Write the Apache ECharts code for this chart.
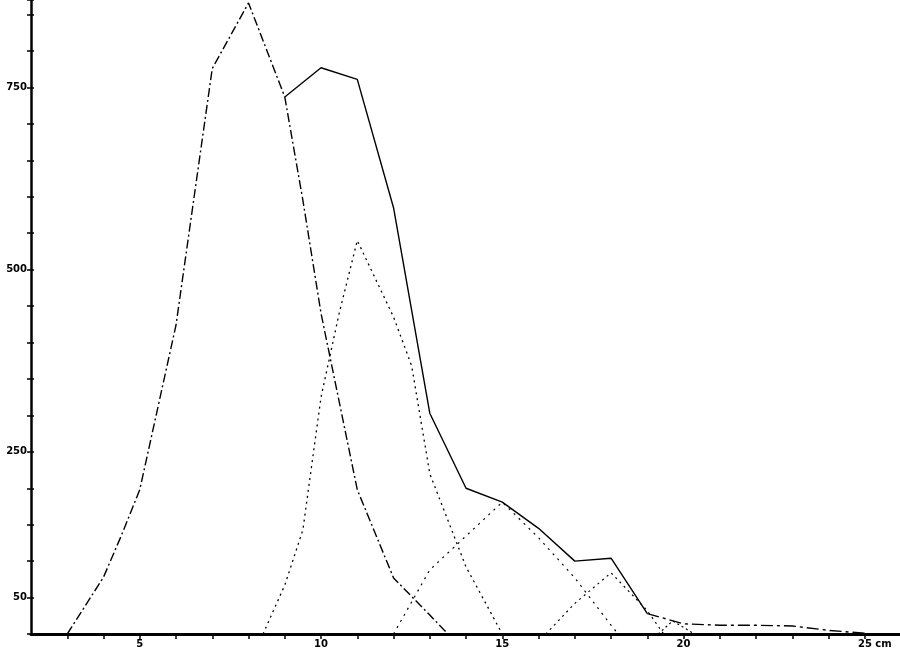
<!DOCTYPE html>
<html>
<head>
<meta charset="utf-8">
<script src="https://cdn.jsdelivr.net/npm/echarts@6/dist/echarts.min.js"></script>
<style>html,body{margin:0;padding:0;background:#fff}#c{width:900px;height:651px}</style>
</head>
<body>
<div id="c"></div>
<script>
// Component 1 (first peak, dash-dot)
var comp1X = [3, 4, 4.5, 5, 6, 7, 8, 9, 9.5, 10, 11, 12, 13, 13.5];
var comp1Y = [0, 78, 136, 198, 424, 776, 866, 737, 595, 440, 198, 77, 26, 0];
// Component 2 (peak at 11, dotted)
var comp2X = [8.4, 9, 9.5, 10, 10.5, 11, 12, 12.5, 13, 14, 15];
var comp2Y = [0, 67, 143, 325, 440, 540, 435, 368, 220, 92, 0];
// Component 3 (peak at 15, dotted)
var comp3X = [12, 13, 15, 16, 17, 18, 18.2];
var comp3Y = [0, 88, 181, 132, 77, 12, 0];
// Component 4 (peak at 18, dotted)
var comp4X = [16.2, 17, 18, 19, 19.45];
var comp4Y = [0, 42, 84, 32, 0];
// Component 5 (small tail, dotted)
var comp5X = [19.3, 19.7, 20.3];
var comp5Y = [0, 18, 0];
// Total (envelope)
var totalX = [8, 9, 10, 11, 12, 13, 14, 15, 16, 17, 18, 19, 20, 21, 22, 23, 24, 25];
var totalY = [866, 737, 777, 761, 585, 303, 200, 181, 145, 100, 104, 28, 14, 12, 12, 11, 5, 1];
// Tick labels
var yLabelValues = [50, 250, 500, 750];
var xLabelValues = [5, 10, 15, 20, 25];

function pairs(xs, ys) { return xs.map(function (x, i) { return [x, ys[i]]; }); }
var totalPairs = pairs(totalX, totalY);
var totalSolid = totalPairs.filter(function (p) { return p[0] >= 9 && p[0] <= 19; });
var totalTail = totalPairs.filter(function (p) { return p[0] >= 19; });

function lineSeries(data, type, width) {
  return {
    type: 'line', data: data, showSymbol: false, silent: true, animation: false,
    lineStyle: { color: '#000', width: width || 1.3, type: type }
  };
}

var chart = echarts.init(document.getElementById('c'), null, { renderer: 'canvas' });
chart.setOption({
  backgroundColor: '#fff',
  animation: false,
  grid: { left: 31, right: 0, top: 0, bottom: 17 },
  xAxis: {
    type: 'value', min: 2, max: 25.97, interval: 1,
    axisLine: { show: true, onZero: false, lineStyle: { color: '#000', width: 3 } },
    axisTick: { show: true, length: 5, lineStyle: { color: '#000', width: 1.5 } },
    splitLine: { show: false },
    axisLabel: {
      margin: 5, color: '#000', fontFamily: 'DejaVu Sans', fontWeight: 'bold', fontSize: 10,
      showMinLabel: false, showMaxLabel: false,
      formatter: function (v) {
        if (xLabelValues.indexOf(v) < 0) return '';
        if (v === 25) return '{sp|}25 cm';
        return String(v);
      },
      rich: { sp: { width: 20 } }
    }
  },
  yAxis: [{
    type: 'value', min: 0, max: 870, interval: 50,
    axisLine: { show: true, lineStyle: { color: '#000', width: 2.5 } },
    axisTick: { show: true, length: 4, lineStyle: { color: '#000', width: 1.5 } },
    splitLine: { show: false },
    axisLabel: {
      margin: 4, color: '#000', fontFamily: 'DejaVu Sans', fontWeight: 'bold', fontSize: 10,
      formatter: function (v) { return yLabelValues.indexOf(v) >= 0 ? String(v) : ''; }
    }
  }, {
    type: 'value', min: 0, max: 870, interval: 50, position: 'left',
    axisLine: { show: false },
    axisTick: { show: true, inside: true, length: 3, lineStyle: { color: '#000', width: 1.5 } },
    splitLine: { show: false },
    axisLabel: { show: false }
  }],
  series: [
    lineSeries(pairs(comp1X, comp1Y), [9, 3, 2, 3], 1.4),
    lineSeries(pairs(comp2X, comp2Y), [2, 4], 1.3),
    lineSeries(pairs(comp3X, comp3Y), [2, 5], 1.2),
    lineSeries(pairs(comp4X, comp4Y), [2, 4], 1.2),
    lineSeries(pairs(comp5X, comp5Y), [2, 3], 1.2),
    lineSeries(totalSolid, 'solid', 1.4),
    lineSeries(totalTail, [12, 4, 3, 4], 1.4)
  ]
});
</script>
</body>
</html>
